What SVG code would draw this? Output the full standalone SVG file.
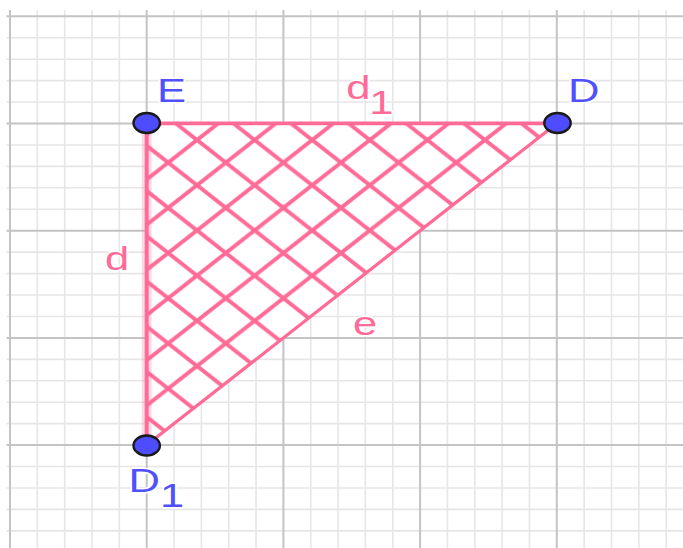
<svg xmlns="http://www.w3.org/2000/svg" width="683" height="548" viewBox="0 0 683 548">
<style>
.minor{stroke:#E6E6E6;stroke-width:1.6;fill:none}
.major{stroke:#C4C4C4;stroke-width:2;fill:none}
.edge{stroke:#FF6B96;fill:none;stroke-linecap:round}
.pt{fill:#4D4DFF;stroke:#1A1A1A;stroke-width:2.4}
.lb{font-family:"Liberation Sans",Arial,sans-serif;font-size:34px;stroke:#FFFFFF;stroke-width:3;paint-order:stroke;stroke-linejoin:round}
.blue{fill:#5050FF}
.pink{fill:#FF6B96}
</style>
<defs>
<pattern id="hatch" patternUnits="userSpaceOnUse" x="197" y="140" width="57.6" height="45.2">
<path d="M-57.6 -45.2L115.2 90.4M-57.6 0L57.6 90.4M0 -45.2L115.2 45.2M115.2 -45.2L-57.6 90.4M115.2 0L0 90.4M57.6 -45.2L-57.6 45.2" stroke="#FF6B96" stroke-width="4" fill="none"/>
</pattern>
</defs>
<rect width="683" height="548" fill="#FFFFFF"/>
<g id="grid">
<path class="minor" d="M37.34 10V548M64.68 10V548M92.02 10V548M119.36 10V548M174.04 10V548M201.38 10V548M228.72 10V548M256.06 10V548M310.74 10V548M338.08 10V548M365.42 10V548M392.76 10V548M447.44 10V548M474.78 10V548M502.12 10V548M529.46 10V548M584.14 10V548M611.48 10V548M638.82 10V548M666.16 10V548M6.5 37.74H683M6.5 59.18H683M6.5 80.62H683M6.5 102.06H683M6.5 144.94H683M6.5 166.38H683M6.5 187.82H683M6.5 209.26H683M6.5 252.14H683M6.5 273.58H683M6.5 295.02H683M6.5 316.46H683M6.5 359.34H683M6.5 380.78H683M6.5 402.22H683M6.5 423.66H683M6.5 466.54H683M6.5 487.98H683M6.5 509.42H683M6.5 530.86H683"/>
<path class="major" d="M10 10V548M146.7 10V548M283.4 10V548M420.1 10V548M556.8 10V548M6.5 16.3H683M6.5 123.4H683M6.5 230.7H683M6.5 337.9H683M6.5 445.1H683"/>
</g>
<g id="triangle">
<polygon points="146.7,123.4 556.8,123.4 146.7,445.1" fill="#FFFFFF"/>
<polygon points="146.7,123.4 556.8,123.4 146.7,445.1" fill="url(#hatch)"/>
</g>
<g id="connectors">
<line id="seg-d-halo" x1="146.7" y1="123.4" x2="146.7" y2="445.1" stroke="#FF6B96" stroke-opacity="0.25" stroke-width="10"/>
<line id="seg-d" class="edge" x1="146.7" y1="123.4" x2="146.7" y2="445.1" stroke-width="4"/>
<line id="seg-d1" class="edge" x1="146.7" y1="123.4" x2="556.8" y2="123.4" stroke-width="3.8"/>
<line id="seg-e" class="edge" x1="556.8" y1="123.4" x2="146.7" y2="445.1" stroke-width="3.2" stroke="#FF78A0"/>
</g>
<g id="label-d"><text class="lb pink" transform="translate(105,270) scale(1.28,1)">d</text></g>
<g id="label-d1"><text class="lb pink" transform="translate(346.3,98.5) scale(1.28,1)">d<tspan dx="-1" dy="15">1</tspan></text></g>
<g id="label-e"><text class="lb pink" transform="translate(353,334.5) scale(1.28,1)">e</text></g>
<g id="E">
<ellipse class="pt" cx="146.7" cy="123" rx="13.2" ry="10"/>
<text class="lb blue" transform="translate(157,102) scale(1.28,1)">E</text>
</g>
<g id="D">
<ellipse class="pt" cx="557.5" cy="123" rx="13.2" ry="10"/>
<text class="lb blue" transform="translate(568,101.7) scale(1.28,1)">D</text>
</g>
<g id="D1">
<ellipse class="pt" cx="146.7" cy="445.5" rx="13.2" ry="10"/>
<text class="lb blue" transform="translate(128.6,492) scale(1.28,1)">D<tspan dy="15">1</tspan></text>
</g>
</svg>
